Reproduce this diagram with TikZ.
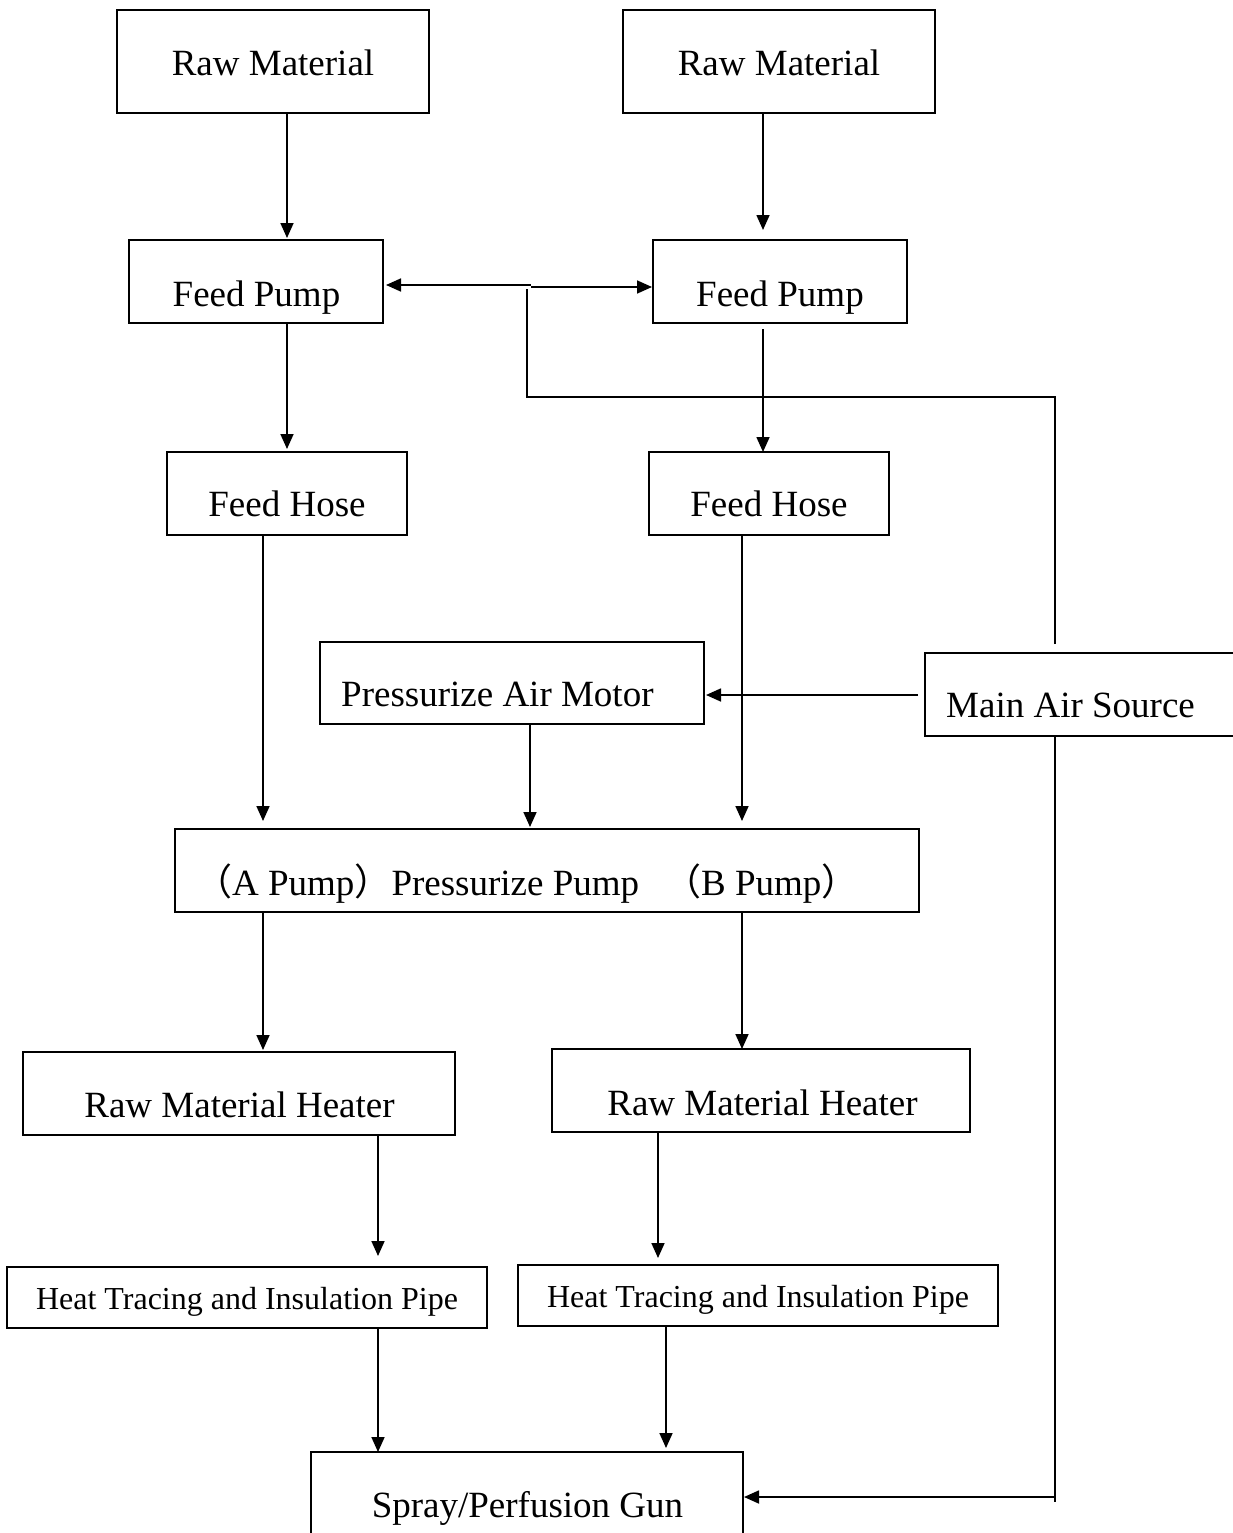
\documentclass[tikz,border=0pt]{standalone}
\usepackage{fontspec}
\setmainfont{Liberation Serif}
\newfontfamily\cjk{Noto Sans CJK SC}
\usetikzlibrary{arrows.meta}
\begin{document}
\begin{tikzpicture}[x=1pt,y=-1pt,
  box/.style={draw,line width=1.7pt,rectangle,inner sep=0pt},
  lbl/.style={anchor=base,inner sep=0pt,font=\fontsize{37}{40}\selectfont},
  lbls/.style={anchor=base,inner sep=0pt,font=\fontsize{32}{36}\selectfont},
  arr/.style={line width=1.7pt,-{Triangle[length=15pt,width=13pt]}},
  ln/.style={line width=1.7pt}]
\useasboundingbox (0,0) rectangle (1232,1533);
% boxes
\node[box,minimum width=312,minimum height=103] (rm1) at (273,61.5) {};
\node[box,minimum width=312,minimum height=103] (rm2) at (779,61.5) {};
\node[box,minimum width=254,minimum height=83] (fp1) at (256,281.5) {};
\node[box,minimum width=254,minimum height=83] (fp2) at (780,281.5) {};
\node[box,minimum width=240,minimum height=83] (fh1) at (287,493.5) {};
\node[box,minimum width=240,minimum height=83] (fh2) at (769,493.5) {};
\node[box,minimum width=384,minimum height=82] (pam) at (512,683) {};
\node[box,minimum width=320,minimum height=83] (mas) at (1085,694.5) {};
\node[box,minimum width=744,minimum height=83] (pp) at (547,870.5) {};
\node[box,minimum width=432,minimum height=83] (rmh1) at (239,1093.5) {};
\node[box,minimum width=418,minimum height=83] (rmh2) at (761,1090.5) {};
\node[box,minimum width=480,minimum height=61] (ht1) at (247,1297.5) {};
\node[box,minimum width=480,minimum height=61] (ht2) at (758,1295.5) {};
\node[box,minimum width=432,minimum height=93] (sg) at (527,1498.5) {};
% labels
\node[lbl] (trm1) at (273,76) {Raw Material};
\node[lbl] (trm2) at (779,76) {Raw Material};
\node[lbl] (tfp1) at (256.5,306) {Feed Pump};
\node[lbl] (tfp2) at (780,306) {Feed Pump};
\node[lbl] (tfh1) at (287,516) {Feed Hose};
\node[lbl] (tfh2) at (769,516) {Feed Hose};
\node[lbl,anchor=base west] (tpam) at (341,706) {Pressurize Air Motor};
\node[lbl,anchor=base west] (tmas) at (946,717) {Main Air Source};
\node[lbl,anchor=base west] (tpp) at (195,895) {{\cjk （}A Pump{\cjk ）}Pressurize Pump\hspace{25pt}{\cjk （}B Pump{\cjk ）}};
\node[lbl] (trmh1) at (239.5,1117) {Raw Material Heater};
\node[lbl] (trmh2) at (762.5,1115) {Raw Material Heater};
\node[lbls] (tht1) at (247,1309) {Heat Tracing and Insulation Pipe};
\node[lbls] (tht2) at (758,1307) {Heat Tracing and Insulation Pipe};
\node[lbl] (tsg) at (527.5,1517) {Spray/Perfusion Gun};
% junction coordinates
\coordinate (a1) at (287,238);
\coordinate (a2) at (763,230);
\coordinate (a3) at (287,449);
\coordinate (a4s) at (763,329);
\coordinate (a4) at (763,452);
\coordinate (a5) at (263,821);
\coordinate (a6) at (742,821);
\coordinate (a7) at (530,827);
\coordinate (a8) at (263,1050);
\coordinate (a9) at (742,1049);
\coordinate (a10) at (378,1256);
\coordinate (a11) at (658,1258);
\coordinate (a12) at (378,1452);
\coordinate (a13) at (666,1448);
\coordinate (m1) at (918,695);
\coordinate (m2) at (706,695);
\coordinate (up0) at (1055,644);
\coordinate (up1) at (1055,397);
\coordinate (up2) at (527,397);
\coordinate (up3) at (527,289);
\coordinate (hj) at (531,285);
\coordinate (hl) at (386,285);
\coordinate (hr) at (652,287);
\coordinate (hj2) at (531,287);
\coordinate (dn1) at (1055,1502);
\coordinate (dj) at (1055,1497);
\coordinate (de) at (744,1497);
% connectors
\draw[arr] (rm1.south -| a1) -- (a1);
\draw[arr] (rm2.south -| a2) -- (a2);
\draw[arr] (fp1.south -| a3) -- (a3);
\draw[arr] (a4s) -- (a4);
\draw[arr] (fh1.south -| a5) -- (a5);
\draw[arr] (fh2.south -| a6) -- (a6);
\draw[arr] (pam.south -| a7) -- (a7);
\draw[arr] (pp.south -| a8) -- (a8);
\draw[arr] (pp.south -| a9) -- (a9);
\draw[arr] (rmh1.south -| a10) -- (a10);
\draw[arr] (rmh2.south -| a11) -- (a11);
\draw[arr] (ht1.south -| a12) -- (a12);
\draw[arr] (ht2.south -| a13) -- (a13);
\draw[arr] (m1) -- (m2);
\draw[ln] (up0) -- (up1) -- (up2) -- (up3);
\draw[arr] (hj) -- (hl);
\draw[arr] (hj2) -- (hr);
\draw[ln] (mas.south -| dn1) -- (dn1);
\draw[arr] (dj) -- (de);
\end{tikzpicture}
\end{document}
